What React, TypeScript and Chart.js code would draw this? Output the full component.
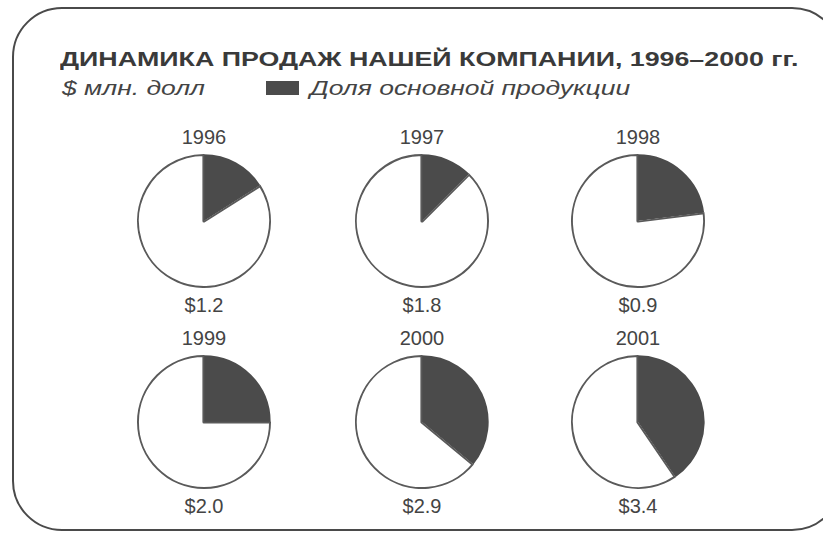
import React, { useEffect, useRef } from "react";
import { Chart, registerables } from "chart.js";

Chart.register(...registerables);

const years: string[] = ["1996", "1997", "1998", "1999", "2000", "2001"];
const sales: number[] = [1.2, 1.8, 0.9, 2.0, 2.9, 3.4];
const coreShare: number[] = [0.16, 0.125, 0.23, 0.25, 0.36, 0.405];
const titleText = "ДИНАМИКА ПРОДАЖ НАШЕЙ КОМПАНИИ, 1996–2000 гг.";
const unitText = "$ млн. долл";
const legendText = "Доля основной продукции";

const centersX = [204, 422, 638];
const centersY = [221, 422];
const PIE = 134;

function Pie({ share }: { share: number }) {
  const ref = useRef<HTMLCanvasElement | null>(null);
  useEffect(() => {
    if (!ref.current) return;
    const chart = new Chart(ref.current, {
      type: "pie",
      data: {
        labels: [legendText, "Прочее"],
        datasets: [
          {
            data: [share, 1 - share],
            backgroundColor: ["#4b4b4b", "#ffffff"],
            borderColor: ["#4b4b4b", "#5a5a5a"],
            borderWidth: [0, 1.6],
            borderAlign: "inner",
          } as any,
        ],
      },
      options: {
        responsive: false,
        maintainAspectRatio: false,
        animation: false,
        devicePixelRatio: 1,
        layout: { padding: 0 },
        plugins: { legend: { display: false }, tooltip: { enabled: false } },
      },
    });
    return () => chart.destroy();
  }, [share]);
  return <canvas ref={ref} width={PIE} height={PIE} />;
}

export default function App() {
  const textColor = "#3a3a3a";
  const stretch = (sx: number): React.CSSProperties => ({
    transform: `scaleX(${sx})`,
    transformOrigin: "left center",
  });
  return (
    <div
      style={{
        position: "absolute",
        left: 0,
        top: 0,
        width: 823,
        height: 537,
        overflow: "hidden",
        background: "#ffffff",
        fontFamily: "'Liberation Sans', Arial, sans-serif",
        color: textColor,
      }}
    >
      <div
        style={{
          position: "absolute",
          left: 12,
          top: 7,
          width: 830,
          height: 524,
          border: "2px solid #4a4a4a",
          borderRadius: 50,
          boxSizing: "border-box",
        }}
      />
      <div
        style={{
          position: "absolute",
          left: 60,
          top: 48,
          fontSize: 21,
          fontWeight: "bold",
          whiteSpace: "nowrap",
          lineHeight: "22px",
          ...stretch(1.275),
        }}
      >
        {titleText}
      </div>
      <div
        style={{
          position: "absolute",
          left: 62,
          top: 77,
          fontSize: 21,
          fontStyle: "italic",
          whiteSpace: "nowrap",
          lineHeight: "22px",
          color: "#444",
          ...stretch(1.26),
        }}
      >
        {unitText}
      </div>
      <div
        style={{
          position: "absolute",
          left: 266,
          top: 81,
          width: 33,
          height: 14,
          background: "#4b4b4b",
        }}
      />
      <div
        style={{
          position: "absolute",
          left: 310,
          top: 77,
          fontSize: 21,
          fontStyle: "italic",
          whiteSpace: "nowrap",
          lineHeight: "22px",
          color: "#444",
          ...stretch(1.26),
        }}
      >
        {legendText}
      </div>
      {years.map((y, i) => {
        const cx = centersX[i % 3];
        const cy = centersY[Math.floor(i / 3)];
        return (
          <React.Fragment key={y}>
            <div
              style={{
                position: "absolute",
                left: cx - 60,
                width: 120,
                top: cy - 95,
                textAlign: "center",
                fontSize: 20,
                lineHeight: "22px",
                color: "#444",
              }}
            >
              {y}
            </div>
            <div
              style={{
                position: "absolute",
                left: cx - PIE / 2,
                top: cy - PIE / 2,
                width: PIE,
                height: PIE,
              }}
            >
              <Pie share={coreShare[i]} />
            </div>
            <div
              style={{
                position: "absolute",
                left: cx - 60,
                width: 120,
                top: cy + 73,
                textAlign: "center",
                fontSize: 20,
                lineHeight: "22px",
                color: "#444",
              }}
            >
              {"$" + sales[i].toFixed(1)}
            </div>
          </React.Fragment>
        );
      })}
    </div>
  );
}
